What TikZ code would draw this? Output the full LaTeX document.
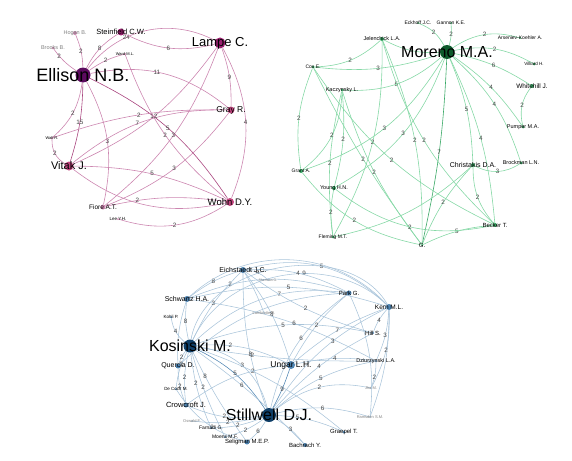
\documentclass[tikz,border=0pt]{standalone}
\usepackage{fontspec}
\setmainfont{Liberation Sans}
\usepackage{xcolor}
\usetikzlibrary{backgrounds}
\definecolor{PurpleHub}{HTML}{5C0B5E}
\definecolor{PurpleMid}{HTML}{9A2070}
\definecolor{PurpleLow}{HTML}{C2467F}
\definecolor{PurpleEdge}{HTML}{CC86B0}
\definecolor{PurpleDeep}{HTML}{A9457F}
\definecolor{GreenHub}{HTML}{0D5A2B}
\definecolor{GreenLow}{HTML}{3BA967}
\definecolor{GreenEdge}{HTML}{86D8A6}
\definecolor{BlueHub}{HTML}{0F3F68}
\definecolor{BlueLow}{HTML}{4E84B2}
\definecolor{BlueEdge}{HTML}{A9C4DA}
\definecolor{LabGrey}{HTML}{444444}

\begin{document}
\begin{tikzpicture}[x=1pt,y=-1pt,
  dot/.style={circle,inner sep=0pt,minimum size=#1},
  nlab/.style={font=\fontsize{#1}{#1}\selectfont,text=black,inner sep=0pt},
  faint/.style={font=\fontsize{#1}{#1}\selectfont,text=gray,inner sep=0pt},
  elab/.style={font=\fontsize{6.3}{6.3}\selectfont,text=LabGrey,inner sep=0.5pt},
  pedge/.style={draw=PurpleEdge,line width=0.6pt},
  gedge/.style={draw=GreenEdge,line width=0.6pt},
  bedge/.style={draw=BlueEdge,line width=0.55pt}]
\useasboundingbox (0,0) rectangle (572,460);

% purple network
\node[dot=15,fill=PurpleHub,label={[nlab=18]center:Ellison N.B.}] (ellison) at (83,75) {};
\node[dot=7,fill=PurpleMid,label={[nlab=7.5]center:Steinfield C.W.}] (steinfield) at (121,32) {};
\node[dot=4,fill=PurpleEdge,label={[faint=5.5]center:Hogan B.}] (hogan) at (75,33) {};
\node[dot=3,fill=PurpleEdge,label={[faint=5.5]center:Brooks B.}] (brooks) at (53,48) {};
\node[dot=2,fill=PurpleEdge,label={[nlab=4]center:Ward M.L.}] (ward) at (125,54) {};
\node[dot=11,fill=PurpleMid,label={[nlab=13]center:Lampe C.}] (lampe) at (220,43) {};
\node[dot=7,fill=PurpleLow,label={[nlab=8.5]center:Gray R.}] (gray) at (231,110) {};
\node[dot=2,fill=PurpleEdge,label={[nlab=4]center:Walt R.}] (walt) at (52,138) {};
\node[dot=9,fill=PurpleLow,label={[nlab=11]center:Vitak J.}] (vitak) at (69,166) {};
\node[dot=5,fill=PurpleEdge,label={[nlab=6.5]center:Fiore A.T.}] (fiore) at (103,207) {};
\node[dot=2,fill=PurpleEdge,label={[nlab=4.5]center:Lee Y.H.}] (lee) at (118,219) {};
\node[dot=8,fill=PurpleLow,label={[nlab=9.5]center:Wohn D.Y.}] (wohn) at (230,202) {};

% green network
\node[dot=14,fill=GreenHub,label={[nlab=16]center:Moreno M.A.}] (moreno) at (447,52) {};
\node[dot=2,fill=GreenLow,label={[nlab=5]center:Eckhoff J.C.}] (eckhoff) at (418,23) {};
\node[dot=2,fill=GreenLow,label={[nlab=5]center:Gannon K.E.}] (gannon) at (451,23) {};
\node[dot=4,fill=GreenLow,label={[nlab=5.5]center:Jelenchick L.A.}] (jelenchick) at (382,39) {};
\node[dot=2,fill=GreenLow,label={[nlab=5]center:Arseniev-Koehler A.}] (arseniev) at (520,38) {};
\node[dot=3,fill=GreenLow,label={[nlab=4.5]center:Villiard H.}] (villiard) at (534,64) {};
\node[dot=4,fill=GreenLow,label={[nlab=6.5]center:Whitehill J.}] (whitehill) at (532,86) {};
\node[dot=3,fill=GreenLow,label={[nlab=5.5]center:Pumper M.A.}] (pumper) at (523,127) {};
\node[dot=3,fill=GreenLow,label={[nlab=5.5]center:Brockman L.N.}] (brockman) at (521,163) {};
\node[dot=4,fill=GreenLow,label={[nlab=7]center:Christakis D.A.}] (christakis) at (473,165) {};
\node[dot=4,fill=GreenLow,label={[nlab=6]center:Becker T.}] (becker) at (495,225) {};
\node[dot=2,fill=GreenLow,label={[nlab=6]center:G.}] (gnode) at (422,245) {};
\node[dot=3,fill=GreenLow,label={[nlab=5]center:Fleming M.T.}] (fleming) at (333,237) {};
\node[dot=4,fill=GreenLow,label={[nlab=5.5]center:Young H.N.}] (young) at (334,188) {};
\node[dot=4,fill=GreenLow,label={[nlab=5]center:Grant A.}] (grant) at (301,171) {};
\node[dot=3,fill=GreenLow,label={[nlab=5]center:Cox E.}] (cox) at (313,67) {};
\node[dot=3,fill=GreenLow,label={[nlab=5.5]center:Kaczynsky L.}] (kaczynsky) at (342,90) {};

% blue network
\node[dot=13,fill=BlueHub,label={[nlab=16]center:Kosinski M.}] (kosinski) at (190,346) {};
\node[dot=14,fill=BlueHub,label={[nlab=16]center:Stillwell D.J.}] (stillwell) at (269,415) {};
\node[dot=8,fill=BlueLow,label={[nlab=8.5]center:Ungar L.H.}] (ungar) at (291,365) {};
\node[dot=6,fill=BlueLow,label={[nlab=7]center:Eichstaedt J.C.}] (eichstaedt) at (243,270) {};
\node[dot=2,fill=BlueEdge,label={[faint=3.5]center:Sherman G.}] (sherman) at (268,280) {};
\node[dot=6,fill=BlueLow,label={[nlab=7]center:Schwartz H.A.}] (schwartz) at (187,299) {};
\node[dot=2,fill=BlueLow,label={[nlab=4.5]center:Kohli P.}] (kohli) at (171,317) {};
\node[dot=2,fill=BlueEdge,label={[faint=4]center:Lambiotte R.}] (lambiotte) at (264,313) {};
\node[dot=5,fill=BlueLow,label={[nlab=7]center:Quercia D.}] (quercia) at (178,366) {};
\node[dot=2,fill=BlueLow,label={[nlab=4.5]center:De Cock M.}] (decock) at (176,389) {};
\node[dot=5,fill=BlueLow,label={[nlab=7.5]center:Crowcroft J.}] (crowcroft) at (186,405) {};
\node[dot=2,fill=BlueEdge,label={[faint=4]center:Oswald F.}] (oswald) at (192,421) {};
\node[dot=2,fill=BlueLow,label={[nlab=5]center:Farnadi G.}] (farnadi) at (211,428) {};
\node[dot=2,fill=BlueLow,label={[nlab=5]center:Moens M.F.}] (moens) at (225,437) {};
\node[dot=5,fill=BlueLow,label={[nlab=6]center:Seligman M.E.P.}] (seligman) at (247,442) {};
\node[dot=4,fill=BlueLow,label={[nlab=6]center:Bachrach Y.}] (bachrach) at (305,445) {};
\node[dot=3,fill=BlueLow,label={[nlab=6]center:Graepel T.}] (graepel) at (344,432) {};
\node[dot=5,fill=BlueLow,label={[nlab=6]center:Park G.}] (park) at (349,293) {};
\node[dot=6,fill=BlueLow,label={[nlab=6.5]center:Kern M.L.}] (kern) at (389,307) {};
\node[dot=2,fill=BlueLow,label={[nlab=6]center:Hill S.}] (hill) at (373,333) {};
\node[dot=2,fill=BlueLow,label={[nlab=5.5]center:Dziurzynski L.A.}] (dziurzynski) at (376,361) {};
\node[dot=2,fill=BlueEdge,label={[faint=4]center:Jha M.}] (jha) at (371,388) {};
\node[dot=2,fill=BlueEdge,label={[faint=4]center:Ramsden S.M.}] (ramsden) at (370,417) {};

\begin{scope}[on background layer]
% purple edges
\draw[pedge] (ellison) to[bend left=15] node[elab]{8} (steinfield);
\draw[pedge] (ellison) to[bend right=10] node[elab]{2} (hogan);
\draw[pedge] (ellison) to[bend left=10] node[elab,pos=0.75]{2} (brooks);
\draw[pedge] (ellison) to[bend left=10] node[elab]{2} (ward);
\draw[pedge] (ellison) to[bend left=40] node[elab,pos=0.35]{24} (lampe);
\draw[pedge] (steinfield) to[bend right=20] node[elab]{6} (lampe);
\draw[pedge] (ellison) to[bend left=25] node[elab,pos=0.45]{11} (gray);
\draw[pedge] (lampe) to[bend left=10] node[elab]{9} (gray);
\draw[pedge] (lampe) to[bend left=25] node[elab]{4} (wohn);
\draw[pedge,draw=PurpleDeep] (ellison) to[bend left=15] node[elab]{5} (wohn);
\draw[pedge,draw=PurpleDeep] (ellison) to[bend left=8] node[elab]{15} (vitak);
\draw[pedge] (ellison) to[bend left=20] node[elab]{2} (walt);
\draw[pedge] (ellison) to[bend left=20] node[elab]{3} (fiore);
\draw[pedge] (vitak) to[bend left=20] node[elab,pos=0.45]{7} (gray);
\draw[pedge] (vitak) to[bend right=15] node[elab]{12} (lampe);
\draw[pedge] (walt) to[bend left=10] node[elab]{2} (gray);
\draw[pedge] (fiore) to[bend right=15] node[elab]{3} (lampe);
\draw[pedge] (ward) to[bend right=15] node[elab]{2} (wohn);
\draw[pedge] (vitak) to[bend left=12] node[elab]{5} (wohn);
\draw[pedge] (vitak) to[bend left=30] node[elab]{2} (walt);
\draw[pedge] (fiore) to[bend right=15] node[elab]{3} (gray);
\draw[pedge] (fiore) to[bend left=10] node[elab,pos=0.25]{2} (wohn);
\draw[pedge] (vitak) to[bend right=25] (wohn);
\draw[pedge] (lee) to[bend right=25] node[elab]{2} (wohn);
% green edges
\draw[gedge] (moreno) to[bend right=20] node[elab]{2} (eckhoff);
\draw[gedge] (moreno) to[bend right=10] node[elab]{2} (gannon);
\draw[gedge] (moreno) to[bend left=15] node[elab]{3} (jelenchick);
\draw[gedge] (moreno) to[bend left=25] node[elab]{2} (arseniev);
\draw[gedge] (moreno) to[bend left=20] node[elab]{2} (villiard);
\draw[gedge] (moreno) to[bend left=10] node[elab]{6} (whitehill);
\draw[gedge] (moreno) to[bend left=10] node[elab]{4} (pumper);
\draw[gedge] (moreno) to[bend left=15] node[elab]{4} (brockman);
\draw[gedge] (whitehill) to[bend right=25] node[elab]{2} (pumper);
\draw[gedge] (moreno) to[bend left=10] node[elab]{4} (becker);
\draw[gedge] (moreno) to[bend left=10] node[elab]{5} (christakis);
\draw[gedge,draw=GreenLow] (moreno) to[bend left=5] node[elab]{7} (gnode);
\draw[gedge] (moreno) to[bend left=12] node[elab]{3} (cox);
\draw[gedge] (moreno) to[bend left=22] node[elab]{5} (kaczynsky);
\draw[gedge] (moreno) to[bend left=20] node[elab]{3} (grant);
\draw[gedge] (moreno) to[bend left=20] node[elab]{3} (young);
\draw[gedge] (jelenchick) to[bend left=20] node[elab]{2} (cox);
\draw[gedge] (cox) to[bend right=15] node[elab]{2} (grant);
\draw[gedge] (kaczynsky) to[bend left=10] node[elab]{2} (young);
\draw[gedge] (jelenchick) to[bend left=15] node[elab]{2} (fleming);
\draw[gedge] (jelenchick) to[bend right=15] node[elab]{2} (becker);
\draw[gedge] (cox) to[bend right=15] node[elab]{2} (becker);
\draw[gedge] (cox) to[bend right=5] node[elab]{2} (gnode);
\draw[gedge] (kaczynsky) to[bend right=10] node[elab]{2} (gnode);
\draw[gedge] (kaczynsky) to[bend right=10] node[elab]{2} (fleming);
\draw[gedge] (jelenchick) to[bend left=12] node[elab]{2} (gnode);
\draw[gedge] (grant) to[bend right=25] node[elab]{2} (kaczynsky);
\draw[gedge] (christakis) to[bend right=30] node[elab]{3} (brockman);
\draw[gedge] (christakis) to[bend right=20] node[elab]{2} (becker);
\draw[gedge] (christakis) to[bend right=10] node[elab]{2} (gnode);
\draw[gedge] (young) to[bend right=10] node[elab]{2} (fleming);
\draw[gedge] (becker) to[bend right=10] node[elab]{5} (gnode);
\draw[gedge] (young) to[bend right=25] node[elab]{2} (becker);
\draw[gedge] (grant) to[bend right=20] node[elab]{2} (gnode);
\draw[gedge] (fleming) to[bend right=15] (christakis);
% blue edges
\draw[bedge] (eichstaedt) to[bend left=30] node[elab]{5} (kern);
\draw[bedge] (kosinski) to[bend left=55] node[elab,pos=0.6]{9} (kern);
\draw[bedge] (eichstaedt) to[bend left=20] node[elab]{4} (sherman);
\draw[bedge] (schwartz) to[bend left=10] node[elab]{8} (eichstaedt);
\draw[bedge] (schwartz) to[bend left=20] node[elab,pos=0.25]{2} (park);
\draw[bedge] (kosinski) to[bend left=25] node[elab,pos=0.6]{7} (park);
\draw[bedge] (eichstaedt) to[bend left=15] node[elab]{4} (park);
\draw[bedge] (schwartz) to[bend left=15] node[elab,pos=0.5]{5} (kern);
\draw[bedge] (kosinski) to[bend left=10] node[elab]{3} (eichstaedt);
\draw[bedge] (kosinski) to[bend left=10] node[elab]{8} (schwartz);
\draw[bedge] (kosinski) to[bend left=20] node[elab]{4} (kohli);
\draw[bedge] (kosinski) to[bend left=15] node[elab,pos=0.35]{2} (ungar);
\draw[bedge] (kosinski) to[bend right=5] node[elab,pos=0.3]{2} (dziurzynski);
\draw[bedge] (eichstaedt) to[bend left=10] node[elab]{8} (ungar);
\draw[bedge] (kosinski) to[bend left=15] node[elab]{5} (hill);
\draw[bedge] (schwartz) to[bend left=10] node[elab,pos=0.55]{6} (dziurzynski);
\draw[bedge] (eichstaedt) to[bend right=10] node[elab,pos=0.6]{8} (stillwell);
\draw[bedge] (stillwell) to[bend left=20] node[elab,pos=0.55]{6} (park);
\draw[bedge] (stillwell) to[bend left=15] node[elab,pos=0.6]{3} (kern);
\draw[bedge] (ungar) to[bend left=10] node[elab]{2} (park);
\draw[bedge] (ungar) to[bend left=10] node[elab]{7} (kern);
\draw[bedge] (hill) to[bend left=10] node[elab]{4} (kern);
\draw[bedge] (kern) to[bend left=10] node[elab]{3} (dziurzynski);
\draw[bedge] (kern) to[bend left=15] node[elab]{2} (jha);
\draw[bedge] (ungar) to[bend left=10] node[elab]{4} (dziurzynski);
\draw[bedge] (eichstaedt) to[bend right=10] node[elab]{2} (hill);
\draw[bedge] (kosinski) to[bend right=10] node[elab]{2} (quercia);
\draw[bedge] (quercia) to[bend right=10] node[elab]{2} (crowcroft);
\draw[bedge,draw=BlueLow] (kosinski) to[bend left=15] node[elab]{5} (stillwell);
\draw[bedge] (kosinski) to[bend left=35] node[elab]{3} (stillwell);
\draw[bedge] (stillwell) to[bend left=15] node[elab]{5} (dziurzynski);
\draw[bedge] (stillwell) to[bend left=25] node[elab]{2} (jha);
\draw[bedge] (stillwell) to[bend left=15] node[elab]{6} (ramsden);
\draw[bedge] (stillwell) to[bend left=10] node[elab]{4} (hill);
\draw[bedge] (kosinski) to[bend right=5] node[elab,pos=0.25]{8} (seligman);
\draw[bedge] (kosinski) to[bend right=10] node[elab]{2} (crowcroft);
\draw[bedge] (kosinski) to[bend right=10] node[elab,pos=0.35]{2} (decock);
\draw[bedge] (kosinski) to[bend right=8] node[elab,pos=0.4]{2} (farnadi);
\draw[bedge] (kosinski) to[bend right=5] node[elab,pos=0.4]{2} (moens);
\draw[bedge] (kosinski) to[bend left=5] node[elab,pos=0.4]{6} (bachrach);
\draw[bedge] (kosinski) to[bend left=10] node[elab,pos=0.35]{2} (graepel);
\draw[bedge,draw=BlueLow] (ungar) to[bend left=5] node[elab]{9} (stillwell);
\draw[bedge] (crowcroft) to[bend right=15] node[elab]{2} (stillwell);
\draw[bedge] (oswald) to[bend right=10] node[elab]{2} (stillwell);
\draw[bedge] (farnadi) to[bend right=10] node[elab]{2} (stillwell);
\draw[bedge] (moens) to[bend right=10] node[elab]{2} (stillwell);
\draw[bedge] (decock) to[bend right=20] node[elab,pos=0.6]{2} (seligman);
\draw[bedge] (stillwell) to[bend left=10] node[elab]{6} (seligman);
\draw[bedge] (stillwell) to[bend left=10] node[elab]{3} (bachrach);
\draw[bedge] (stillwell) to[bend left=10] node[elab,pos=0.3]{5} (graepel);
\draw[bedge] (ramsden) to[bend right=10] (kern);
\draw[bedge] (jha) to[bend right=10] node[elab,pos=0.4]{2} (dziurzynski);
\draw[bedge] (ramsden) to[bend right=15] (park);
\draw[bedge] (schwartz) to[bend right=10] (quercia);
\draw[bedge] (eichstaedt) to[bend left=5] (lambiotte);
\draw[bedge] (crowcroft) to[bend left=15] (ungar);
\draw[bedge] (quercia) to[bend left=20] (park);
\draw[bedge] (kosinski) to[bend left=70] (kern);
\draw[bedge] (schwartz) to[bend left=45] (kern);
\end{scope}
\end{tikzpicture}
\end{document}
